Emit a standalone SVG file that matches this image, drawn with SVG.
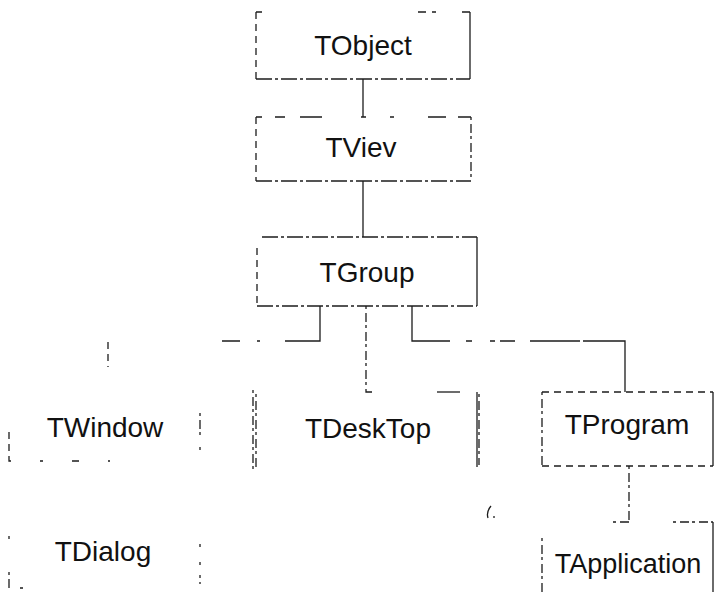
<svg xmlns="http://www.w3.org/2000/svg" width="714" height="597" viewBox="0 0 714 597">
<style>
.s{stroke:#1c1c1c;stroke-width:1.3;fill:none}
.d1{stroke-dasharray:16 3 3 3}
.d2{stroke-dasharray:7 5}
.d3{stroke-dasharray:3 4 9 3}
.t{font-family:"Liberation Sans",Arial,sans-serif;font-size:28px;fill:#111;text-anchor:middle}
</style>
<rect width="714" height="597" fill="#fff"/>
<g id="connectors">
<path class="s" d="M363 79 V117"/>
<path class="s" d="M363 181 V237"/>
<path class="s" d="M320 306 V341 H285 M257 341 H260 M222 341 H240"/>
<path class="s d2" d="M108 342 V367"/>
<path class="s d3" d="M366 306 V392 H372"/>
<path class="s" d="M412 306 V341 H450 M466 341 H472 M490 341 H495 M500 341 H515 M530 341 H580 M583 341 H625 V392"/>
<path class="s d3" d="M629 466 V522"/>
</g>
<g id="TObject">
<path class="s" d="M256 12 H262 M418 12 H426 M432 12 H436 M462 12 H470"/>
<path class="s d2" d="M256 12 V79"/>
<path class="s" d="M470 12 V79"/>
<path class="s d1" d="M256 79 H470"/>
<text class="t" x="363" y="55">TObject</text>
</g>
<g id="TViev">
<path class="s" d="M256 117 H262 M275 117 H285 M300 117 H322 M361 117 H366 M390 117 H394 M428 117 H446 M458 117 H471"/>
<path class="s d2" d="M256 117 V181"/>
<path class="s d3" d="M471 117 V181"/>
<path class="s d1" d="M256 181 H471"/>
<text class="t" x="361" y="157">TViev</text>
</g>
<g id="TGroup">
<path class="s d1" d="M262 237 H477"/>
<path class="s d2" d="M257 248 V306"/>
<path class="s" d="M477 237 V306"/>
<path class="s d1" d="M257 306 H477"/>
<text class="t" x="367" y="282">TGroup</text>
</g>
<g id="TWindow">
<path class="s d2" d="M9 432 V461 H14 M40 461 H43 M72 461 H82 M108 461 H110"/>
<path class="s d3" d="M200 413 V438 M200 447 V450"/>
<text class="t" x="105" y="437">TWindow</text>
</g>
<g id="TDeskTop">
<path class="s d3" d="M253 390 V470 M256 394 V468"/>
<path class="s" d="M437 392 H460"/>
<path class="s" d="M477 392 V467"/>
<path class="s d3" d="M479 394 V465"/>
<text class="t" x="368" y="438">TDeskTop</text>
</g>
<g id="TProgram">
<path class="s d2" d="M542 392 H713"/>
<path class="s d3" d="M542 392 V466"/>
<path class="s" d="M713 392 V466"/>
<path class="s d2" d="M542 466 H713"/>
<text class="t" x="627" y="434">TProgram</text>
</g>
<g id="TApplication">
<path class="s d3" d="M613 522 H629 M673 522 H713"/>
<path class="s" d="M713 522 V592"/>
<path class="s d3" d="M542 538 V592"/>
<text class="t" x="628" y="573" style="font-size:27px">TApplication</text>
</g>
<g id="TDialog">
<path class="s d3" d="M9 536 V539 M9 572 V588 H12 M20 588 H25"/>
<path class="s d3" d="M200 544 V547 M200 562 V565 M200 575 V584"/>
<text class="t" x="103" y="561">TDialog</text>
</g>
<path class="s" d="M491 506 Q486 512 488 518 M494 516 V518"/>
</svg>
